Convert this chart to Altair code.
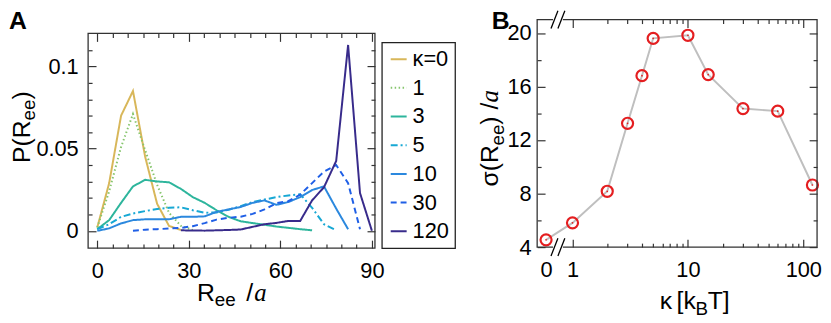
import altair as alt
import pandas as pd

FONT = "Liberation Sans"

# ---------------- Panel A data ----------------
R_BINS = [0.0, 3.9, 7.8, 11.7, 15.7, 19.6, 23.5, 27.4, 31.3, 35.2, 39.1, 43.0,
          47.0, 50.9, 54.8, 58.7, 62.6, 66.5, 70.4, 74.3, 78.3, 82.2, 86.1, 90.0]

P_K0 = [0.002, 0.029, 0.070, 0.085, 0.045, 0.0165, 0.003, 0.0005]
P_K1 = [0.002, 0.024, 0.051, 0.071, 0.049, 0.028, 0.011, 0.003, 0.0005]
P_K3 = [0.001, 0.0065, 0.017, 0.027, 0.031, 0.030, 0.0295, 0.0255, 0.0205, 0.017,
        0.0125, 0.0085, 0.0058, 0.0047, 0.0037, 0.0026, 0.0018, 0.001, 0.0003]
P_K5 = [0.001, 0.004, 0.0085, 0.0105, 0.012, 0.0133, 0.014, 0.0143, 0.0125, 0.011,
        0.0112, 0.0128, 0.015, 0.0175, 0.019, 0.0205, 0.0215, 0.0222, 0.014, 0.004, 0.0003]
P_K10 = [0.0, 0.0015, 0.0045, 0.0065, 0.007, 0.007, 0.007, 0.0085, 0.0085, 0.0088,
         0.0115, 0.013, 0.0145, 0.017, 0.0185, 0.0158, 0.0175, 0.0205, 0.0248, 0.027,
         0.0135, 0.001]
P_K30 = [0.0, 0.0007, 0.001, 0.0014, 0.0018, 0.0028, 0.0047, 0.0068, 0.0079, 0.0086,
         0.0103, 0.013, 0.0168, 0.018, 0.022, 0.029, 0.036, 0.040, 0.029, 0.001]
P_K120 = [0.0003, 0.0002, 0.0001, 0.0003, 0.0005, 0.0008, 0.0024, 0.004, 0.0048, 0.006,
          0.006, 0.0185, 0.0265, 0.0425, 0.113, 0.023, 0.0]

SERIES = [P_K0, P_K1, P_K3, P_K5, P_K10, P_K30, P_K120]
START_BIN = [0, 0, 0, 0, 0, 3, 7]
LABELS = ["κ=0", "1", "3", "5", "10", "30", "120"]
COLORS = ["#d8b75a", "#86c56d", "#2db59c", "#17a8d4", "#2b88de", "#1f5fe6", "#382b8b"]
DASHES = [[1, 0], [1.5, 2.5], [1, 0], [7, 3, 2, 3], [1, 0], [6, 4], [1, 0]]

# ---------------- Panel B data ----------------
KAPPA = [0, 1, 2, 3, 4, 5, 10, 15, 30, 60, 120]
SIGMA = [4.54, 5.81, 8.17, 13.25, 16.81, 19.6, 19.83, 16.89, 14.35, 14.16, 8.64]
KAPPA_ZERO_POS = 0.59  # where kappa = 0 sits, left of the axis break

rows = []
for lab, vals, s in zip(LABELS, SERIES, START_BIN):
    for i, v in enumerate(vals):
        rows.append({"R": R_BINS[s + i], "P": v, "kappa": lab, "i": i})
dfA = pd.DataFrame(rows)

dfB = pd.DataFrame({"kappa": KAPPA, "sigma": SIGMA})
dfB["kx"] = [KAPPA_ZERO_POS if k == 0 else k for k in KAPPA]

ONE = pd.DataFrame({"z": [0]})
INK = "#333333"
TITLE_F, SUB_F, SUB_DY = 25, 19, 6
PANEL_F = 25
PANEL_Y = 9.75


def txt(text, x, y, size, italic=False, angle=0, bold=False, serif=False):
    kw = dict(text=text, fontSize=size, font=("Liberation Serif" if serif else FONT),
              align="left", baseline="alphabetic", color="black")
    if italic:
        kw["fontStyle"] = "italic"
    if bold:
        kw["fontWeight"] = "bold"
    if angle:
        kw["angle"] = angle
    return alt.Chart(ONE).mark_text(**kw).encode(x=alt.value(x), y=alt.value(y))


def htitle(pieces, x0, y0):
    # pieces: (text, size, dy, italic, advance)
    out, x = [], x0
    for text, size, dy, italic, adv in pieces:
        out.append(txt(text, x, y0 + dy, size, italic=italic, serif=italic))
        x += adv
    return out


def vtitle(pieces, x0, y0):
    out, y = [], y0
    for text, size, dx, italic, adv in pieces:
        out.append(txt(text, x0 + dx, y, size, italic=italic, serif=italic, angle=270))
        y -= adv
    return out


def frame(x1, y1, x2, y2):
    return alt.Chart(ONE).mark_rect(fill="transparent", stroke=INK, strokeWidth=1.3).encode(
        x=alt.value(x1), y=alt.value(y1), x2=alt.value(x2), y2=alt.value(y2))


def seg(x1, y1, x2, y2, color="black", width=1.3):
    return alt.Chart(ONE).mark_rule(color=color, strokeWidth=width).encode(
        x=alt.value(x1), y=alt.value(y1), x2=alt.value(x2), y2=alt.value(y2))


MAJ, MIN = 8, 4


def ax(orient, values, size=None, labels=False, pad=0, fmt=None, expr=None, shift=0):
    kw = dict(orient=orient, values=values, title=None, domain=False, grid=False)
    if labels:
        kw.update(labels=True, ticks=False, labelPadding=pad)
        if fmt:
            kw["format"] = fmt
        if expr:
            kw["labelExpr"] = expr
    else:
        kw.update(labels=False, ticks=True, tickSize=size, offset=-(size + shift))
    return alt.Axis(**kw)


def ghost(base, xf, yf, xs, ys, xaxis, yaxis):
    return base.mark_point(opacity=0).encode(
        x=alt.X(xf, scale=xs, axis=xaxis), y=alt.Y(yf, scale=ys, axis=yaxis))


# ---------------- Panel A ----------------
WA, HA, TOPA = 290, 231, 14   # frame of A runs from y=TOPA to y=HA
xA = alt.Scale(domain=[-3, 91], nice=False, zero=False)
yA = alt.Scale(domain=[-0.0105, 0.12], range=[HA, TOPA], nice=False, zero=False)
XA_MAJ = [0, 30, 60, 90]
XA_MIN = [v for v in range(5, 90, 5) if v % 30]
YA_MAJ = [0, 0.05, 0.1]
YA_MIN = [0.01, 0.02, 0.03, 0.04, 0.06, 0.07, 0.08, 0.09, 0.11]

legA = alt.Legend(title=None, orient="none", legendX=297, legendY=23, strokeColor="#222222",
                  padding=6, symbolType="stroke", symbolSize=260, symbolStrokeWidth=2,
                  labelFontSize=22, labelFont=FONT, labelColor="black", rowPadding=7,
                  labelOffset=3)

baseA = alt.Chart(dfA)
linesA = baseA.mark_line(strokeWidth=2).encode(
    x=alt.X("R:Q", scale=xA, axis=ax("bottom", XA_MAJ, labels=True, pad=13, fmt="d")),
    y=alt.Y("P:Q", scale=yA, axis=ax("left", YA_MAJ, labels=True, pad=10, fmt=".2~f")),
    color=alt.Color("kappa:N", scale=alt.Scale(domain=LABELS, range=COLORS), legend=legA),
    strokeDash=alt.StrokeDash("kappa:N", scale=alt.Scale(domain=LABELS, range=DASHES), legend=legA),
    order="i:Q",
)

gA = [
    ghost(baseA, "R:Q", "P:Q", xA, yA, ax("bottom", XA_MAJ, MAJ), ax("left", YA_MAJ, MAJ)),
    ghost(baseA, "R:Q", "P:Q", xA, yA, ax("bottom", XA_MIN, MIN), ax("left", YA_MIN, MIN)),
    ghost(baseA, "R:Q", "P:Q", xA, yA, ax("top", XA_MAJ, MAJ, shift=TOPA), ax("right", YA_MAJ, MAJ)),
    ghost(baseA, "R:Q", "P:Q", xA, yA, ax("top", XA_MIN, MIN, shift=TOPA), ax("right", YA_MIN, MIN)),
]

textA = [txt("A", -80, PANEL_Y, PANEL_F, bold=True), frame(0, TOPA, WA, HA)]
textA += htitle([("R", TITLE_F, 0, False, 18), ("ee", SUB_F, SUB_DY, False, 32),
                 ("/", TITLE_F, 0, False, 8), ("a", TITLE_F, 0, True, 12)], 110, 284)
textA += vtitle([("P(R", TITLE_F, 0, False, 43), ("ee", SUB_F, SUB_DY, False, 21.1),
                 (")", TITLE_F, 0, False, 8)], -59.25, 145)

panelA = alt.layer(linesA, *gA, *textA).resolve_axis(x="independent", y="independent").properties(
    width=WA, height=HA)

# ---------------- Panel B ----------------
WB, HB = 283, 230
xB = alt.Scale(type="log", domain=[0.494, 131.6], nice=False)
yB = alt.Scale(domain=[4, 21], nice=False, zero=False)
XB_LAB = [KAPPA_ZERO_POS, 1, 10, 100]
XB_MAJ = [1, 10, 100]
XB_MIN = [2, 3, 4, 5, 6, 7, 8, 9, 20, 30, 40, 50, 60, 70, 80, 90]
YB_MAJ = [4, 8, 12, 16, 20]
YB_MIN = [6, 10, 14, 18]

baseB = alt.Chart(dfB)
lineB = baseB.mark_line(color="#bfbfbf", strokeWidth=2).encode(
    x=alt.X("kx:Q", scale=xB,
            axis=ax("bottom", XB_LAB, labels=True, pad=13,
                    expr="datum.value < 0.9 ? '0' : format(datum.value, 'd')")),
    y=alt.Y("sigma:Q", scale=yB, axis=ax("left", YB_MAJ, labels=True, pad=6, fmt="d")),
)
ptsB = baseB.mark_point(shape="circle", filled=False, size=125, strokeWidth=2.2,
                        color="#e41e20", opacity=1).encode(
    x=alt.X("kx:Q", scale=xB, axis=ax("bottom", XB_MAJ, MAJ)),
    y=alt.Y("sigma:Q", scale=yB, axis=ax("left", YB_MAJ, MAJ)),
)
dotB = baseB.mark_point(shape="circle", filled=True, size=3, color="#e41e20", opacity=1).encode(
    x=alt.X("kx:Q", scale=xB, axis=ax("bottom", XB_MIN, MIN)),
    y=alt.Y("sigma:Q", scale=yB, axis=ax("left", YB_MIN, MIN)),
)
gB = [
    ghost(baseB, "kx:Q", "sigma:Q", xB, yB, ax("top", XB_MAJ, MAJ), ax("right", YB_MAJ, MAJ)),
    ghost(baseB, "kx:Q", "sigma:Q", xB, yB, ax("top", XB_MIN, MIN), ax("right", YB_MIN, MIN)),
]

decoB = [
    frame(0, 0, WB, HB),
    seg(16, HB, 26, HB, color="white", width=3),
    seg(16, 0, 26, 0, color="white", width=3),
    seg(14, HB + 9, 21, HB - 9), seg(21, HB + 9, 28, HB - 9),
    seg(14, 9, 21, -9), seg(21, 9, 28, -9),
]

textB = [txt("B", -46, PANEL_Y, PANEL_F, bold=True)]
textB += vtitle([("σ(R", TITLE_F, 0, False, 41.4), ("ee", SUB_F, SUB_DY, False, 21.1),
                 (")", TITLE_F, 0, False, 15.3), ("/", TITLE_F, 0, False, 7),
                 ("a", TITLE_F, 0, True, 12.5)], -40, 168.7)
textB += htitle([("κ", TITLE_F, 0, False, 17), ("[k", TITLE_F, 0, False, 19),
                 ("B", SUB_F, SUB_DY, False, 12.5), ("T]", TITLE_F, 0, False, 22)], 124, 293)

panelB = alt.layer(lineB, ptsB, dotB, *gB, *decoB, *textB).resolve_axis(
    x="independent", y="independent").properties(width=WB, height=HB)

chart = alt.hconcat(panelA, panelB, spacing=93).properties(
    padding={"left": 0, "top": -1, "right": 0, "bottom": 0}
).configure_view(stroke="transparent").configure_axis(
    labelFont=FONT, labelFontSize=22, labelColor="black", tickColor=INK, tickWidth=1.2,
    domain=False, grid=False
).configure_legend(strokeWidth=1.3)

chart.save("out.html", embed_options={"renderer": "svg", "actions": False})
